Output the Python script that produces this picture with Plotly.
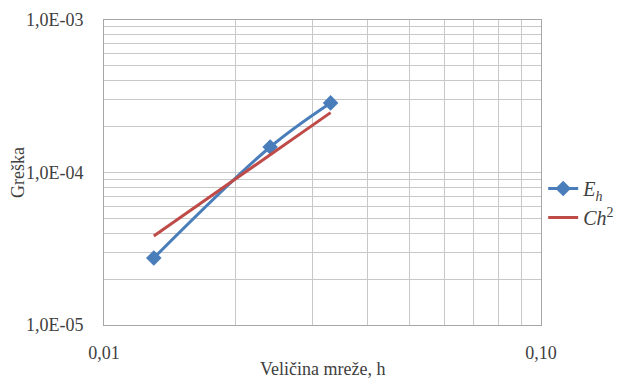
import plotly.graph_objects as go

h_vals = [0.013, 0.024, 0.033]
eh_vals = [2.75e-5, 1.47e-4, 2.86e-4]
ch2_h = [0.013, 0.024, 0.033]
ch2_vals = [3.83e-5, 1.30e-4, 2.47e-4]

x_ticks = [0.01 * k for k in range(1, 11)]
x_text = ["0,01"] + [""] * 8 + ["0,10"]
y_ticks = []
y_text = []
for d, lab in [(1e-5, "1,0E-05"), (1e-4, "1,0E-04")]:
    for k in range(1, 10):
        y_ticks.append(d * k)
        y_text.append(lab if k == 1 else "")
y_ticks.append(1e-3)
y_text.append("1,0E-03")

FONT = "Liberation Serif, serif"
BLUE = "#4A7EBB"
RED = "#BE4B48"
TXT = "#404040"

fig = go.Figure()
fig.add_trace(go.Scatter(
    x=h_vals, y=eh_vals, mode="lines+markers", name="<i>E<sub>h</sub></i>",
    line=dict(color=BLUE, width=3, shape="spline"),
    marker=dict(symbol="diamond", size=12, color=BLUE)))
fig.add_trace(go.Scatter(
    x=ch2_h, y=ch2_vals, mode="lines", name="<i>Ch</i><sup>2</sup>",
    line=dict(color=RED, width=3)))

fig.update_layout(
    width=620, height=373,
    margin=dict(l=96, r=87, t=12, b=56, autoexpand=False),
    paper_bgcolor="white", plot_bgcolor="white",
    font=dict(family=FONT, size=16, color=TXT),
    showlegend=True,
    legend=dict(x=1.005, y=0.40, xanchor="left", yanchor="middle",
                font=dict(family=FONT, size=20, color=TXT),
                bgcolor="rgba(0,0,0,0)", tracegroupgap=4, itemwidth=30),
    annotations=[dict(text="Veličina mreže, h", xref="paper", yref="paper",
                      x=0.5, y=-0.145, xanchor="center", yanchor="middle",
                      showarrow=False, font=dict(family=FONT, size=18, color=TXT))],
)
fig.update_xaxes(
    type="log", range=[-2, -1], automargin=False,
    tickvals=x_ticks, ticktext=x_text,
    showgrid=True, gridcolor="#C8C8C8", gridwidth=1,
    showline=True, linecolor="#A6A6A6", linewidth=1, mirror=True,
    ticks="outside", ticklen=11, tickcolor="rgba(0,0,0,0)",
    tickfont=dict(family=FONT, size=18, color=TXT),
    zeroline=False,
)
fig.update_yaxes(
    type="log", range=[-5, -3], automargin=False,
    tickvals=y_ticks, ticktext=y_text,
    showgrid=True, gridcolor="#C8C8C8", gridwidth=1,
    showline=True, linecolor="#A6A6A6", linewidth=1, mirror=True,
    ticks="outside", ticklen=16, tickcolor="rgba(0,0,0,0)",
    tickfont=dict(family=FONT, size=18, color=TXT),
    title=dict(text="Greška", font=dict(family=FONT, size=18, color=TXT), standoff=4),
    zeroline=False,
)

fig.write_html("out.html")
